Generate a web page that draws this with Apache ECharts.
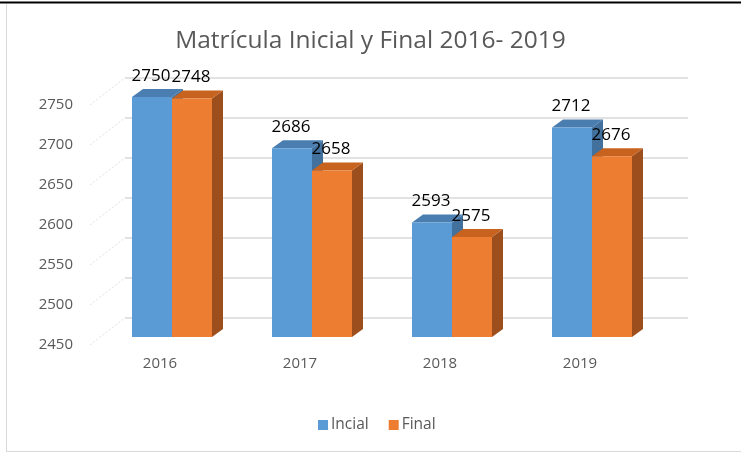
<!DOCTYPE html>
<html><head><meta charset="utf-8">
<script src="https://cdn.jsdelivr.net/npm/echarts@6/dist/echarts.min.js"></script>
<style>html,body{margin:0;padding:0;background:#fff}#c{width:741px;height:457px}</style>
</head><body><div id="c"></div>
<script>
const title = 'Matrícula Inicial y Final 2016- 2019';
const categories = ['2016', '2017', '2018', '2019'];
const inicial = [2750, 2686, 2593, 2712];
const final = [2748, 2658, 2575, 2676];
const seriesNames = ['Incial', 'Final'];
const yMin = 2450, yMax = 2750, yStep = 50;
const yTicks = [2450, 2500, 2550, 2600, 2650, 2700, 2750];

const FONT = 'Open Sans';
const front = ['#5b9bd5', '#ed7d31'];
const top_ = ['#4a7eb0', '#c8621f'];
const side = ['#41719c', '#9c4f1c'];
const DX = 12, DY = -8;       // set-back of bar front from floor front
const DDX = 11, DDY = -8;     // bar depth

function barRenderer(s) {
  return function (params, api) {
    const idx = api.value(0), val = api.value(1);
    const p = api.coord([idx, val]);
    const b = api.coord([idx, yMin]);
    const bw = api.size([1, 0])[0] * 40 / 140;
    const x0 = p[0] + DX - bw + s * bw, x1 = x0 + bw;
    const yt = p[1] + DY, yb = b[1] + DY;
    return {
      type: 'group',
      children: [
        { type: 'polygon', shape: { points: [[x1, yt], [x1 + DDX, yt + DDY], [x1 + DDX, yb + DDY], [x1, yb]] }, style: { fill: side[s] } },
        { type: 'polygon', shape: { points: [[x0, yt], [x1, yt], [x1 + DDX, yt + DDY], [x0 + DDX, yt + DDY]] }, style: { fill: top_[s] } },
        { type: 'rect', shape: { x: x0, y: yt, width: bw, height: yb - yt }, style: { fill: front[s] } },
        { type: 'text', style: { text: String(val), x: x0 + bw / 2 - 1, y: yt - 21, align: 'center', verticalAlign: 'middle', font: '17px "Open Sans"', fill: '#000' }, z2: 10 }
      ]
    };
  };
}

const chart = echarts.init(document.getElementById('c'), null, { renderer: 'canvas' });
chart.setOption({
  animation: false,
  backgroundColor: '#fff',
  textStyle: { fontFamily: FONT },
  title: { text: title, left: 'center', top: 24, textStyle: { fontSize: 24.5, fontWeight: 'normal', color: '#595959', fontFamily: FONT } },
  legend: {
    data: seriesNames, top: 412, left: 313, icon: 'rect', itemWidth: 10, itemHeight: 10, itemGap: 20,
    textStyle: { fontSize: 15.5, color: '#595959', fontFamily: FONT, padding: [0, 0, 0, -2] }
  },
  grid: [
    { left: 90, right: 91, top: 105, bottom: 112 },
    { left: 125, right: 53, top: 78, bottom: 139 }
  ],
  xAxis: [
    { type: 'category', gridIndex: 0, data: categories, axisLine: { show: false }, axisTick: { show: false },
      axisLabel: { margin: 11, fontSize: 15, color: '#595959', fontFamily: FONT } },
    { type: 'value', gridIndex: 1, show: false, min: 0, max: 1 }
  ],
  yAxis: [
    { type: 'value', gridIndex: 0, min: yMin, max: yMax, interval: yStep, splitLine: { show: false },
      axisLine: { show: false }, axisTick: { show: false },
      axisLabel: { margin: 17, fontSize: 15, color: '#595959', fontFamily: FONT, formatter: v => String(v) } },
    { type: 'value', gridIndex: 1, min: yMin, max: yMax, interval: yStep, axisLabel: { show: false },
      axisLine: { show: false }, axisTick: { show: false },
      splitLine: { show: true, lineStyle: { color: '#d9d9d9', width: 1.5 } } }
  ],
  series: [
    { type: 'custom', name: 'walls', xAxisIndex: 0, yAxisIndex: 0, clip: false, silent: true, z: 1,
      data: yTicks.map(v => [0, v]),
      renderItem: function (params, api) {
        const p = api.coord([0, api.value(1)]);
        const x = params.coordSys.x;
        return { type: 'line', shape: { x1: x, y1: p[1], x2: x + 35, y2: p[1] - 27 },
          style: { stroke: '#e0e0e0', lineWidth: 1, lineDash: [2, 2] } };
      } },
    { type: 'custom', name: seriesNames[0], xAxisIndex: 0, yAxisIndex: 0, clip: false, z: 3,
      itemStyle: { color: front[0] }, data: inicial.map((v, i) => [i, v]), renderItem: barRenderer(0) },
    { type: 'custom', name: seriesNames[1], xAxisIndex: 0, yAxisIndex: 0, clip: false, z: 4,
      itemStyle: { color: front[1] }, data: final.map((v, i) => [i, v]), renderItem: barRenderer(1) }
  ],
  graphic: [
    { type: 'line', shape: { x1: 0, y1: 2.5, x2: 741, y2: 2.5 }, style: { stroke: '#000', lineWidth: 2 }, silent: true },
    { type: 'line', shape: { x1: 6.5, y1: 4, x2: 6.5, y2: 451.5 }, style: { stroke: '#d9d9d9', lineWidth: 1 }, silent: true },
    { type: 'line', shape: { x1: 6, y1: 451.5, x2: 741, y2: 451.5 }, style: { stroke: '#d9d9d9', lineWidth: 1 }, silent: true }
  ]
});
</script></body></html>
